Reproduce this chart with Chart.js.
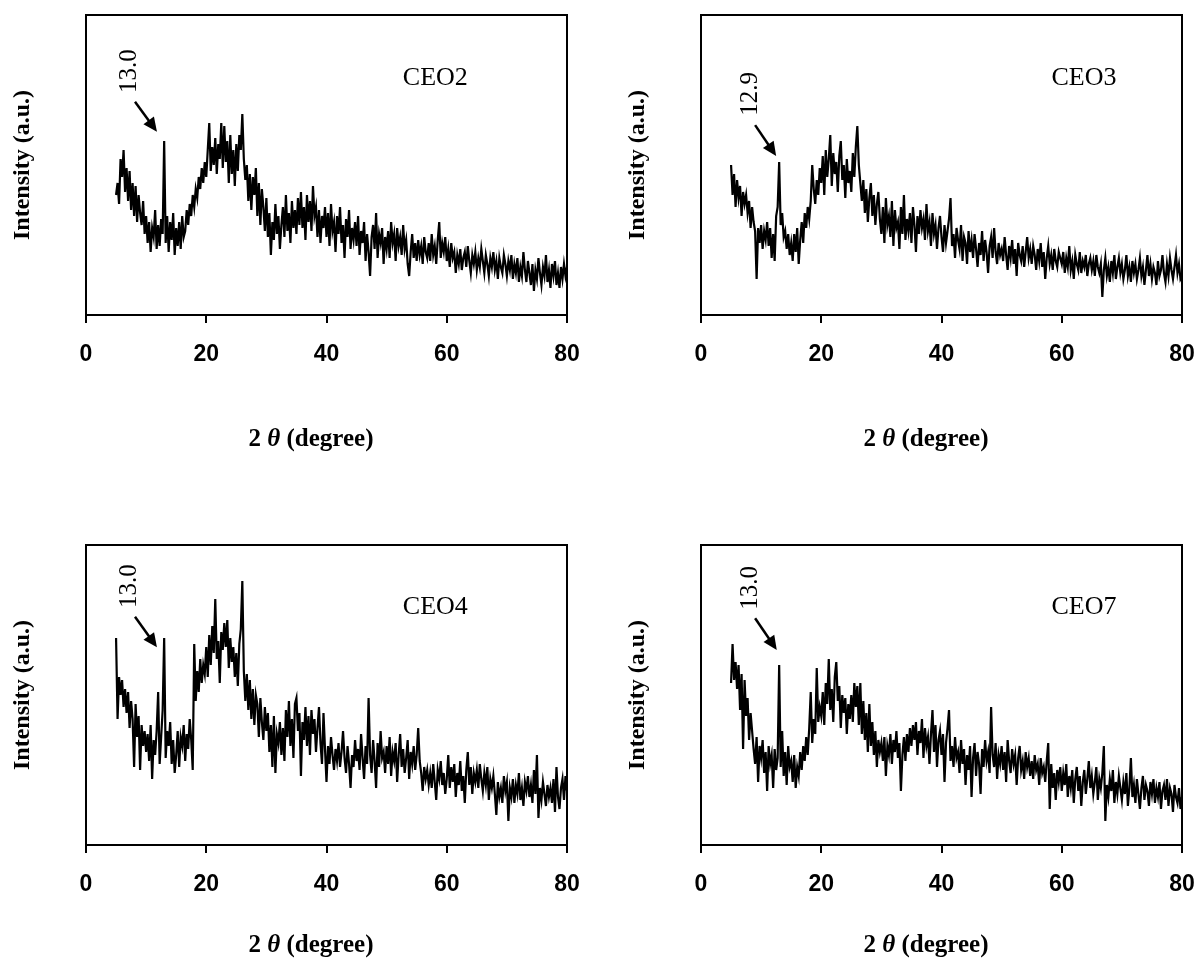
<!DOCTYPE html>
<html>
<head>
<meta charset="utf-8">
<script src="https://cdn.jsdelivr.net/npm/chart.js@4.4.1/dist/chart.umd.min.js"></script>
<style>
	body { margin: 0; background: #fff; overflow: hidden; }
	.wrap { position: relative; width: 1197px; height: 958px; }
	canvas { position: absolute; }
</style>
</head>
<body>
<div class="wrap">
	<canvas id="c1" width="582" height="479" style="left:0;top:0"></canvas>
	<canvas id="c2" width="582" height="479" style="left:615px;top:0"></canvas>
	<canvas id="c3" width="582" height="479" style="left:0;top:479px"></canvas>
	<canvas id="c4" width="582" height="479" style="left:615px;top:479px"></canvas>
</div>
<script>
// 2 theta grid: 5 to 80 degree, step 0.25
const startAngle = 5
const stepAngle = 0.25
const xTicks = [0, 20, 40, 60, 80]

// intensities (0 = axis, 100 = top of frame)
const ceo2 = [
	40,44,37,52,46,55,41,49,38,48,35,44,33,43,31,40,34,30,38,27,
	33,24,31,21,29,26,35,22,30,23,32,27,58,24,33,21,31,25,34,20,
	29,23,31,22,33,26,28,35,30,37,33,40,36,42,39,46,42,49,44,51,
	46,55,64,48,56,50,59,47,57,52,64,49,63,51,58,44,60,47,55,43,
	57,48,60,55,67,52,45,50,38,47,35,46,40,49,33,44,30,42,36,28,
	39,26,34,20,31,25,37,27,33,22,30,36,26,40,28,34,24,38,29,35,
	27,39,30,41,29,36,25,40,31,38,28,43,33,36,26,35,24,33,29,36,
	26,34,23,37,28,31,21,33,27,36,24,30,19,32,26,35,22,29,25,31,
	23,33,20,28,24,31,18,27,21,13,26,30,22,34,19,27,24,29,17,26,
	22,28,19,31,24,27,18,29,23,26,20,30,22,25,17,13,21,27,19,24,
	18,25,20,23,17,26,21,19,24,18,27,20,23,17,25,31,19,24,21,26,
	18,22,16,24,19,21,14,20,17,22,15,19,21,16,23,18,14,20,17,21,
	15,19,16,22,18,14,20,17,13,19,16,21,15,18,12,19,16,14,20,17,
	13,18,15,20,12,17,14,19,11,16,13,21,15,11,18,14,10,17,8,15,
	12,19,14,10,16,13,20,11,15,9,17,13,18,10,14,9,16,12,17,13,
	16
]

const ceo3 = [
	50,40,47,36,45,39,43,33,41,37,40,34,38,29,36,31,28,12,29,24,
	30,22,28,25,31,23,29,19,27,18,33,36,51,30,34,26,28,22,27,20,
	24,18,27,21,29,17,25,31,24,34,29,36,32,38,50,42,37,45,40,49,
	44,53,40,55,46,52,60,43,54,47,51,41,53,58,45,50,39,52,44,48,
	41,54,46,56,63,50,44,38,45,34,42,31,39,44,33,40,30,37,41,32,
	27,36,24,39,30,33,26,38,23,35,29,31,22,36,27,40,25,32,28,34,
	24,36,30,21,33,27,35,29,32,25,37,28,31,23,34,27,30,22,29,33,
	26,21,30,24,28,32,39,23,27,19,29,25,22,30,18,26,24,17,28,21,
	25,19,27,22,16,24,20,28,18,25,21,14,23,26,19,29,21,17,24,20,
	22,18,26,20,15,23,19,25,17,22,13,24,20,18,23,16,21,26,19,22,
	17,23,20,15,22,18,24,16,21,12,19,23,17,20,15,22,18,16,21,19,
	17,21,14,19,16,23,15,18,12,20,17,15,21,14,18,16,20,13,17,19,
	15,18,13,20,16,14,17,6,15,19,13,16,11,18,14,20,12,16,19,14,
	17,12,15,20,13,16,11,18,14,17,12,15,19,13,16,10,15,20,13,17,
	12,16,14,10,18,13,15,20,14,11,17,13,19,15,12,16,20,14,17,12,
	13
]

const ceo4 = [
	69,42,56,50,55,46,52,44,51,39,48,42,26,47,36,43,25,40,33,38,
	31,37,28,40,22,35,30,38,51,27,36,45,69,29,38,33,41,27,35,24,
	30,38,26,36,33,40,28,37,32,42,35,25,67,48,58,51,62,54,60,57,
	66,56,70,60,73,64,82,62,68,54,71,65,74,66,75,59,69,61,66,56,
	64,53,67,72,88,58,48,57,45,55,42,52,40,50,47,36,49,41,35,46,
	38,44,31,40,26,43,24,37,34,41,30,39,28,45,36,48,33,42,29,47,
	49,38,44,23,41,35,46,33,43,30,45,37,42,31,39,46,34,27,44,32,
	21,33,27,36,30,25,32,28,34,26,31,38,29,24,33,27,19,30,26,35,
	28,32,25,37,29,22,33,27,49,30,24,35,28,19,34,26,38,29,31,24,
	33,27,36,23,31,28,34,21,30,37,26,32,24,29,35,22,31,27,33,25,
	30,39,28,24,18,26,22,25,20,24,19,27,21,15,25,22,28,20,24,17,
	22,30,19,26,21,27,16,24,20,28,18,23,14,25,31,20,26,17,24,21,
	25,19,27,22,18,24,20,26,15,22,19,23,17,10,21,16,19,14,23,18,
	21,8,19,16,22,14,20,17,24,15,19,13,21,18,23,16,20,14,25,17,
	30,9,19,15,21,17,13,20,16,19,14,22,11,26,16,12,19,22,15,23,
	18
]

const ceo7 = [
	54,67,55,61,52,60,45,57,32,55,43,49,35,44,38,32,27,36,21,33,
	29,35,24,31,18,33,27,30,19,32,25,29,60,26,38,23,31,20,33,26,
	28,21,30,19,26,23,31,25,33,28,36,30,39,51,34,42,37,59,41,46,
	43,51,40,54,47,62,45,52,41,56,61,48,53,39,50,44,49,37,47,42,
	50,41,54,46,53,40,54,37,48,35,44,31,47,33,41,30,38,26,35,31,
	34,28,36,23,33,30,37,27,35,31,38,29,34,18,30,36,28,37,31,39,
	33,40,35,41,30,38,34,42,29,39,33,36,27,37,45,31,40,26,35,38,
	30,37,21,34,39,45,28,33,26,36,29,31,24,35,27,32,20,30,25,33,
	16,29,34,23,31,27,17,32,26,35,28,31,24,46,30,26,34,22,30,27,
	33,25,31,21,35,28,24,32,27,30,20,29,33,25,28,22,31,26,29,23,
	28,22,30,25,27,20,29,24,26,21,28,34,12,27,19,24,15,25,21,26,
	18,24,20,27,16,23,19,25,14,22,26,18,23,13,21,25,17,22,28,19,
	23,17,21,26,15,22,19,24,33,8,20,16,22,18,25,14,21,17,23,19,
	15,21,17,24,13,19,29,16,20,14,22,17,12,19,23,15,20,18,13,21,
	17,22,14,19,16,21,12,18,20,15,22,13,19,17,11,20,16,14,19,12,
	16
]

const sampleNames = ['CEO2', 'CEO3', 'CEO4', 'CEO7']
const peakLabels = ['13.0', '12.9', '13.0', '13.0']

const serif = '"Liberation Serif", "Times New Roman", serif'
const sans = '"Liberation Sans", Arial, sans-serif'

// frame, sample name, peak arrow and the x title
const decor = {
	id: 'decor',
	afterDatasetsDraw(chart, args, o) {
		const { ctx, chartArea: a } = chart
		const x = chart.scales.x
		const y = chart.scales.y
		ctx.save()
		ctx.strokeStyle = '#000'
		ctx.fillStyle = '#000'
		ctx.lineWidth = 2
		ctx.strokeRect(a.left, a.top, a.right - a.left, a.bottom - a.top)

		ctx.font = '26px ' + serif
		ctx.textAlign = 'center'
		ctx.textBaseline = 'middle'
		ctx.fillText(o.name, x.getPixelForValue(o.nameAt[0]), y.getPixelForValue(o.nameAt[1]))

		ctx.save()
		ctx.translate(x.getPixelForValue(o.peakAt[0]), y.getPixelForValue(o.peakAt[1]))
		ctx.rotate(-Math.PI / 2)
		ctx.font = '25px ' + serif
		ctx.fillText(o.peak, 0, 0)
		ctx.restore()

		const x0 = x.getPixelForValue(o.arrow[0])
		const y0 = y.getPixelForValue(o.arrow[1])
		const x1 = x.getPixelForValue(o.arrow[2])
		const y1 = y.getPixelForValue(o.arrow[3])
		const ang = Math.atan2(y1 - y0, x1 - x0)
		const head = 14
		ctx.lineWidth = 2.5
		ctx.beginPath()
		ctx.moveTo(x0, y0)
		ctx.lineTo(x1 - Math.cos(ang) * head * 0.8, y1 - Math.sin(ang) * head * 0.8)
		ctx.stroke()
		ctx.beginPath()
		ctx.moveTo(x1, y1)
		ctx.lineTo(x1 - head * Math.cos(ang) + 6.5 * Math.sin(ang), y1 - head * Math.sin(ang) - 6.5 * Math.cos(ang))
		ctx.lineTo(x1 - head * Math.cos(ang) - 6.5 * Math.sin(ang), y1 - head * Math.sin(ang) + 6.5 * Math.cos(ang))
		ctx.closePath()
		ctx.fill()

		// "2 θ (degree)" with an italic theta
		const parts = [['2 ', 'bold 25px '], ['\u03b8', 'italic bold 25px '], [' (degree)', 'bold 25px ']]
		let total = 0
		parts.forEach(p => {
			ctx.font = p[1] + serif
			total += ctx.measureText(p[0]).width
		})
		let tx = a.left + o.titleDx - total / 2
		ctx.textAlign = 'left'
		ctx.textBaseline = 'middle'
		parts.forEach(p => {
			ctx.font = p[1] + serif
			ctx.fillText(p[0], tx, o.titleY)
			tx += ctx.measureText(p[0]).width
		})
		ctx.restore()
	},
}

function panel(id, values, padTop, axisHeight, d) {
	const points = values.map((v, i) => ({ x: startAngle + i * stepAngle, y: v }))
	return new Chart(document.getElementById(id), {
		type: 'line',
		data: {
			datasets: [
				{
					data: points,
					borderColor: '#000',
					borderWidth: 2.2,
					pointRadius: 0,
					tension: 0,
					fill: false,
				},
			],
		},
		options: {
			responsive: false,
			animation: false,
			events: [],
			layout: { padding: { top: padTop, right: 15, left: 0, bottom: 0 } },
			plugins: {
				legend: { display: false },
				tooltip: { enabled: false },
				decor: d,
			},
			scales: {
				x: {
					type: 'linear',
					min: 0,
					max: 80,
					afterBuildTicks: s => {
						s.ticks = xTicks.map(v => ({ value: v }))
					},
					afterFit: s => {
						s.height = axisHeight
						s.paddingLeft = 0
						s.paddingRight = 0
					},
					border: { display: false },
					grid: {
						drawOnChartArea: false,
						drawTicks: true,
						tickLength: 8,
						color: '#000',
						lineWidth: 2,
					},
					ticks: {
						color: '#000',
						padding: 18,
						maxRotation: 0,
						font: { family: sans, size: 23, weight: 'bold', lineHeight: 1.2 },
					},
				},
				y: {
					min: 0,
					max: 100,
					afterFit: s => {
						s.width = 86
					},
					border: { display: false },
					grid: { display: false },
					ticks: { display: false },
					title: {
						display: true,
						text: 'Intensity (a.u.)',
						color: '#000',
						padding: { top: 8, bottom: 0 },
						font: { family: serif, size: 24, weight: 'bold', lineHeight: 1.2 },
					},
				},
			},
		},
		plugins: [decor],
	})
}

panel('c1', ceo2, 15, 164, {
	name: sampleNames[0], nameAt: [58.1, 78.8],
	peak: peakLabels[0], peakAt: [7.15, 81.3], arrow: [8.15, 71.1, 11.8, 61.1],
	titleDx: 225, titleY: 440,
})
panel('c2', ceo3, 15, 164, {
	name: sampleNames[1], nameAt: [63.7, 78.8],
	peak: peakLabels[1], peakAt: [8.3, 73.7], arrow: [9.0, 63.3, 12.5, 53],
	titleDx: 225, titleY: 440,
})
panel('c3', ceo4, 66, 113, {
	name: sampleNames[2], nameAt: [58.1, 79.2],
	peak: peakLabels[2], peakAt: [7.26, 86.3], arrow: [8.15, 76.1, 11.8, 65.9],
	titleDx: 225, titleY: 467,
})
panel('c4', ceo7, 66, 113, {
	name: sampleNames[3], nameAt: [63.7, 79.2],
	peak: peakLabels[3], peakAt: [8.15, 85.7], arrow: [9.0, 75.6, 12.6, 65],
	titleDx: 225, titleY: 467,
})
</script>
</body>
</html>
